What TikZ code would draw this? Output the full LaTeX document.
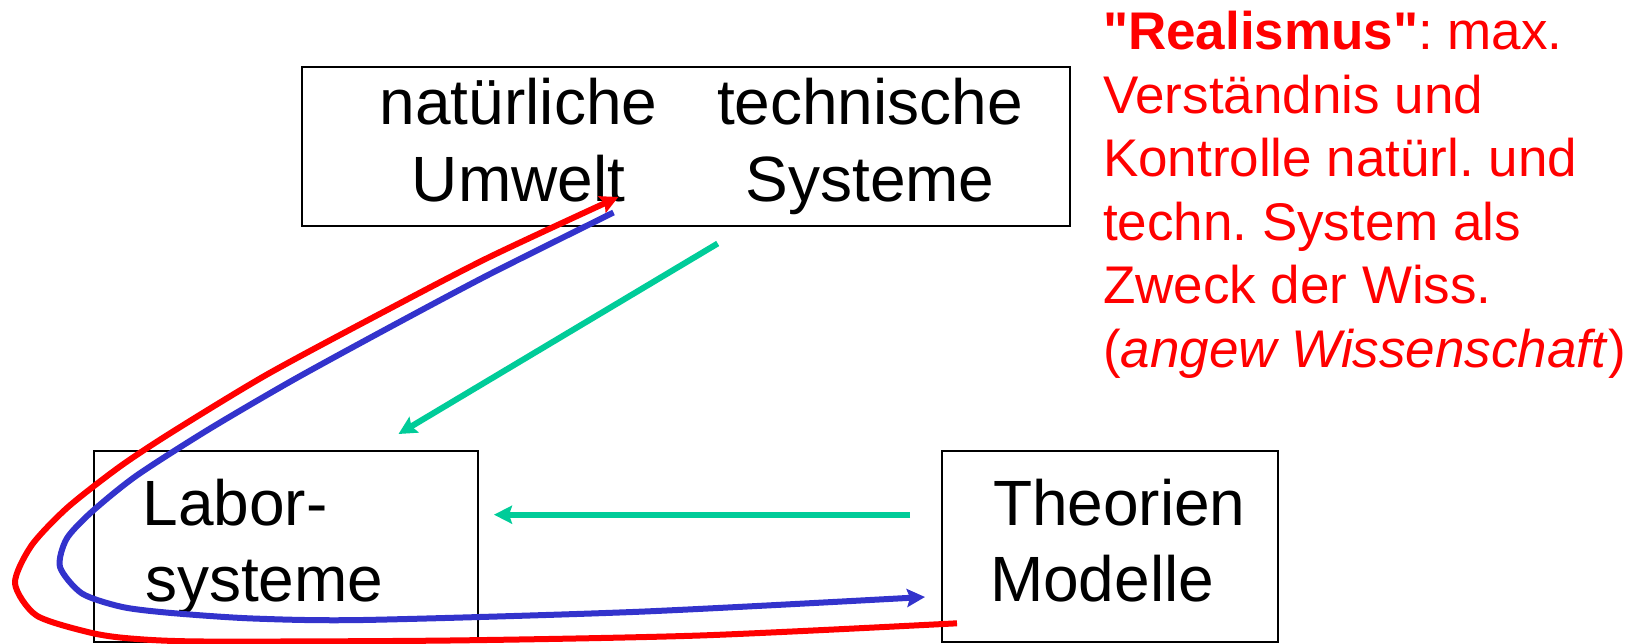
\documentclass[tikz,border=0pt]{standalone}
\usepackage{fontspec}
\setmainfont{Liberation Sans}[Ligatures=TeXOff]
\usetikzlibrary{arrows.meta}
\definecolor{grn}{RGB}{0,204,153}
\definecolor{blu}{RGB}{51,51,204}
\definecolor{rd}{RGB}{255,0,0}
\tikzset{
  box/.style={draw=black, line width=2pt, inner sep=0pt, outer sep=0pt},
  lbl/.style={inner sep=0pt, outer sep=0pt, font=\fontsize{64}{76}\selectfont\frenchspacing},
  rtxt/.style={inner sep=0pt, outer sep=0pt, anchor=base west, text=rd, font=\fontsize{53}{63}\selectfont\frenchspacing},
  tipS/.tip={Stealth[length=18pt, width=18pt, inset=3pt]},
  grnarrow/.style={draw=grn, line width=6pt, -tipS},
  curve/.style={line width=6pt, line join=round, line cap=butt},
}
\begin{document}
\begin{tikzpicture}[x=1pt, y=-1pt]
\useasboundingbox (0,0) rectangle (1647,644);
% boxes
\node[box, minimum width=768.3pt, minimum height=159.3pt] (top) at (685.9,146.4) {};
\node[box, minimum width=384pt, minimum height=191.3pt] (labor) at (286,546.4) {};
\node[box, minimum width=336.3pt, minimum height=191.3pt] (theo) at (1109.9,546.4) {};
% box texts
\node[lbl, anchor=base] (nat) at (518.5,125) {natürliche};
\node[lbl, anchor=base] (umw) at (518.5,201.7) {Umwelt};
\node[lbl, anchor=base] (tech) at (870,125) {technische};
\node[lbl, anchor=base] (sys) at (870,201.7) {Systeme};
\node[lbl, anchor=base west] (lab1) at (142.5,525) {Labor-};
\node[lbl, anchor=base west] (lab2) at (145,601) {systeme};
\node[lbl, anchor=base west] (th1) at (993,525) {Theorien};
\node[lbl, anchor=base west] (th2) at (990,601) {Modelle};
% red text
\node[rtxt] (r1) at (1103,50) {{\bfseries "Realismus"}: max.};
\node[rtxt] (r2) at (1103,113.4) {Verständnis und};
\node[rtxt] (r3) at (1103,176.8) {Kontrolle natürl. und};
\node[rtxt] (r4) at (1103,240.2) {techn. System als};
\node[rtxt] (r5) at (1103,303.6) {Zweck der Wiss.};
\node[rtxt] (r6) at (1103,367) {(\textit{angew Wissenschaft})};
% connector end points
\coordinate (g1s) at (717.7,243.5);
\coordinate (g1e) at (398.5,434);
\coordinate (g2s) at (910,514.7);
\coordinate (g2e) at (494,514.7);
\coordinate (bs) at (613.5,212.5);
\coordinate (be) at (925,597);
\coordinate (rs) at (957,623.3);
\coordinate (re) at (618.4,197);
% green arrows
\draw[grnarrow] (g1s) -- (g1e);
\draw[grnarrow] (g2s) -- (g2e);
% blue curve
\draw[curve, draw=blu, -tipS] plot[smooth, tension=0.45] coordinates {
  (bs) (490,274) (392,326) (294,379.5) (208.5,429.5) (136,476)
  (91,512.5) (66.5,539) (60,567) (82,593.5) (122.4,607)
  (171.4,613) (253,618.5) (363.3,620) (640,611.7) (be)};
% red curve
\draw[curve, draw=rd, -tipS] plot[smooth, tension=0.45] coordinates {
  (rs) (700,635.5) (450,640.5) (204,641.5) (130.6,638.5) (89.8,632.5)
  (36.5,615.5) (15,583.3) (31.5,545.5) (67.5,507.5) (120,466.5)
  (173,431.5) (267,374.5) (381.5,313) (488.5,257.5) (re)};
\end{tikzpicture}
\end{document}
